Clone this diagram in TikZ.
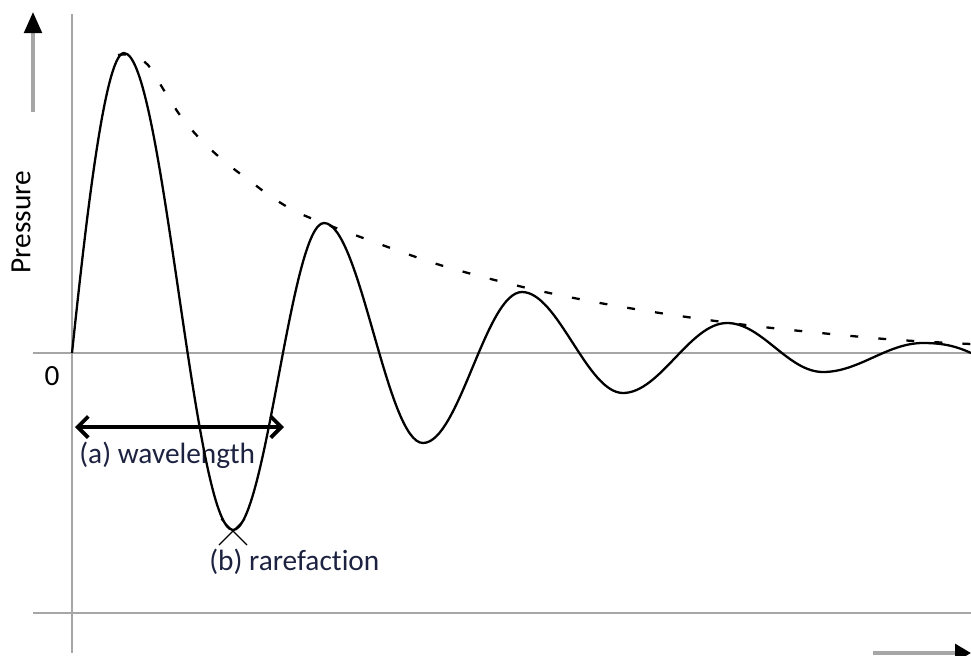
\documentclass[tikz,border=0pt]{standalone}
\usepackage{fontspec}
\setmainfont[Ligatures=NoCommon]{Carlito}
\usetikzlibrary{arrows.meta}
\definecolor{axisgray}{HTML}{A6A6A6}
\definecolor{labelblue}{HTML}{1C2240}
\tikzset{
  axis/.style={draw=axisgray, line width=1.6pt},
  wave/.style={draw=black, line width=1.3pt},
  envelope/.style={draw=black, line width=1.3pt, dash pattern=on 4.5pt off 11.5pt},
  lbl/.style={font=\fontsize{16.7}{20}\selectfont, inner sep=0pt},
}
\begin{document}
\begin{tikzpicture}[x=0.02cm, y=-0.02cm]
\useasboundingbox (0,0) rectangle (971,656);
% axes
\coordinate (ytop) at (72,14);
\coordinate (ybot) at (72,653);
\coordinate (xleft) at (33,353);
\coordinate (xright) at (971,353);
\coordinate (bleft) at (33,613);
\coordinate (bright) at (971,613);
\draw[axis] (ytop) -- (ybot);
\draw[axis] (xleft) -- (xright);
\draw[axis] (bleft) -- (bright);
% direction arrows
\coordinate (pfrom) at (33,112);
\coordinate (pto) at (33,12);
\coordinate (tfrom) at (873,653);
\coordinate (tto) at (971,653);
\draw[axis, line width=2pt, -{Triangle[black, length=12pt, width=10pt]}] (pfrom) -- (pto);
\draw[axis, line width=2pt, -{Triangle[black, length=9pt, width=10pt]}] (tfrom) -- (tto);
% labels
\node[lbl, rotate=90] (pressure) at (21,222) {Pressure};
\node[lbl] (zero) at (52,376) {0};
\node[lbl, text=labelblue, anchor=west] (wavelbl) at (79,455) {(a) wavelength};
\node[lbl, text=labelblue, anchor=west] (rarelbl) at (209,562) {(b) rarefaction};
% damped wave
\draw[wave] (72,353) .. controls (84,240) and (104,53) .. (124,53)
  .. controls (163,53) and (194,530) .. (233,530)
  .. controls (266,530) and (291,223) .. (324,223)
  .. controls (360,223) and (387,443) .. (423,443)
  .. controls (459,443) and (486,292) .. (522,292)
  .. controls (558,292) and (587,393) .. (623,393)
  .. controls (660,393) and (690,323) .. (727,323)
  .. controls (762,323) and (788,372) .. (823,372)
  .. controls (859,372) and (887,343) .. (923,343)
  .. controls (945,343) and (958,347) .. (971,353);
% envelope
\draw[envelope] plot[smooth] coordinates {(118,55) (132,55) (148,65) (165,92) (182,118)
  (202,141) (225,162) (250,181) (273,198) (301,214) (355,235) (440,265) (527,288)
  (600,303) (673,315) (763,327) (885,339) (971,344)};
% wavelength and rarefaction marks
\coordinate (wl0) at (75,427);
\coordinate (wl1) at (284,427);
\draw[line width=2.2pt, {Straight Barb[length=6pt,width=12pt]}-{Straight Barb[length=6pt,width=12pt]}] (wl0) -- (wl1);
\draw[line width=0.7pt] (219,545) -- (245,519) (247,545) -- (221,519);
\end{tikzpicture}
\end{document}
